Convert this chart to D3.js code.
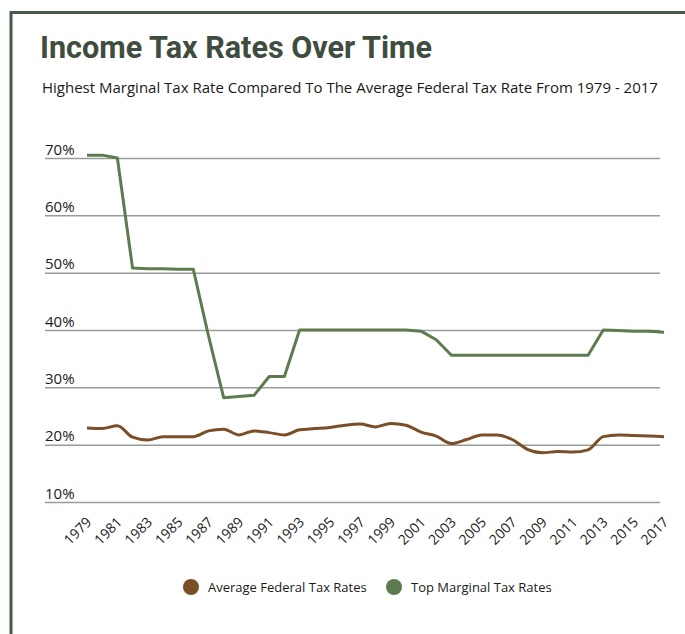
<!DOCTYPE html>
<html lang="en">
<head>
<meta charset="utf-8">
<title>Income Tax Rates Over Time</title>
<script src="https://d3js.org/d3.v7.min.js"></script>
<style>
  body { margin: 0; background: #fff; }
  svg { display: block; }
  .title { font-family: Roboto, "Open Sans", sans-serif; font-weight: bold; fill: #3e4d3e; }
  .sub, .tick text, .legend text { font-family: "Open Sans", "Noto Sans", sans-serif; fill: #1a1a1a; }
</style>
</head>
<body>
<div id="chart"></div>
<script>
// years on the x axis
var years = d3.range(1979, 2018);
var tickYears = d3.range(1979, 2018, 2);
var yTicks = [10, 20, 30, 40, 50, 60, 70];

// Top marginal tax rate (%)
var topMarginal = [70.5, 70.5, 70.0, 50.8, 50.7, 50.7, 50.6, 50.6, 39.0, 28.2, 28.4, 28.6,
  31.9, 31.9, 40.0, 40.0, 40.0, 40.0, 40.0, 40.0, 40.0, 40.0, 39.8, 38.3, 35.6, 35.6,
  35.6, 35.6, 35.6, 35.6, 35.6, 35.6, 35.6, 35.6, 40.0, 39.9, 39.8, 39.8, 39.6];

// Average federal tax rate (%)
var avgFederal = [22.9, 22.8, 23.3, 21.3, 20.8, 21.4, 21.4, 21.4, 22.4, 22.7, 21.7, 22.4,
  22.1, 21.7, 22.6, 22.8, 23.0, 23.4, 23.6, 23.1, 23.7, 23.4, 22.2, 21.5, 20.2, 20.9,
  21.7, 21.7, 20.9, 19.2, 18.6, 18.8, 18.7, 19.1, 21.4, 21.7, 21.6, 21.5, 21.4];

var seriesNames = ["Average Federal Tax Rates", "Top Marginal Tax Rates"];
var seriesColors = ["#7a4e27", "#5e7b50"];

var W = 685, H = 634;
var svg = d3.select("#chart").append("svg").attr("width", W).attr("height", H);

// frame
svg.append("path")
  .attr("d", "M11,634 V12.5 H685")
  .attr("fill", "none")
  .attr("stroke", "#4a594a")
  .attr("stroke-width", 3);

// title is condensed in the original, squeeze it to the same width
svg.append("text").attr("class", "title")
  .attr("x", 40).attr("y", 58)
  .attr("textLength", 392)
  .attr("lengthAdjust", "spacingAndGlyphs")
  .style("font-size", "32px")
  .text("Income Tax Rates Over Time");

svg.append("text").attr("class", "sub")
  .attr("x", 42).attr("y", 93)
  .style("font-size", "15px")
  .text("Highest Marginal Tax Rate Compared To The Average Federal Tax Rate From 1979 - 2017");

var x = d3.scaleLinear().domain([1979, 2017]).range([87, 664]);
var y = d3.scaleLinear().domain([10, 70]).range([502, 158]);

// y gridlines with labels above them
var gy = svg.append("g")
  .attr("transform", "translate(45,0)")
  .call(d3.axisLeft(y).tickValues(yTicks).tickSize(-615).tickFormat(function(d){ return d + "%"; }));
gy.select(".domain").remove();
gy.selectAll(".tick line").attr("stroke", "#9a9a9a").attr("stroke-width", 1.5);
gy.selectAll(".tick text")
  .attr("x", 0).attr("dy", -4)
  .attr("text-anchor", "start")
  .style("font-size", "15px");

// x labels
var gx = svg.append("g")
  .attr("transform", "translate(0,510)")
  .call(d3.axisBottom(x).tickValues(tickYears).tickSize(0).tickFormat(d3.format("d")));
gx.select(".domain").remove();
gx.selectAll(".tick text")
  .attr("text-anchor", "end")
  .attr("dy", 0).attr("y", 0)
  .attr("transform", "translate(5,13) rotate(-45)")
  .style("font-size", "14px");

var line = d3.line()
  .x(function(d, i){ return x(years[i]); })
  .y(function(d){ return y(d); });

svg.append("path")
  .datum(topMarginal)
  .attr("fill", "none")
  .attr("stroke", seriesColors[1])
  .attr("stroke-width", 3)
  .attr("stroke-linejoin", "round")
  .attr("d", line.curve(d3.curveLinear));

svg.append("path")
  .datum(avgFederal)
  .attr("fill", "none")
  .attr("stroke", seriesColors[0])
  .attr("stroke-width", 3)
  .attr("d", line.curve(d3.curveMonotoneX));

// legend
var legX = [191, 394];
var leg = svg.append("g").attr("class", "legend");
seriesNames.forEach(function(name, i) {
  leg.append("circle").attr("cx", legX[i]).attr("cy", 587).attr("r", 8).attr("fill", seriesColors[i]);
  leg.append("text").attr("x", legX[i] + 17).attr("y", 592).style("font-size", "13px").text(name);
});
</script>
</body>
</html>
